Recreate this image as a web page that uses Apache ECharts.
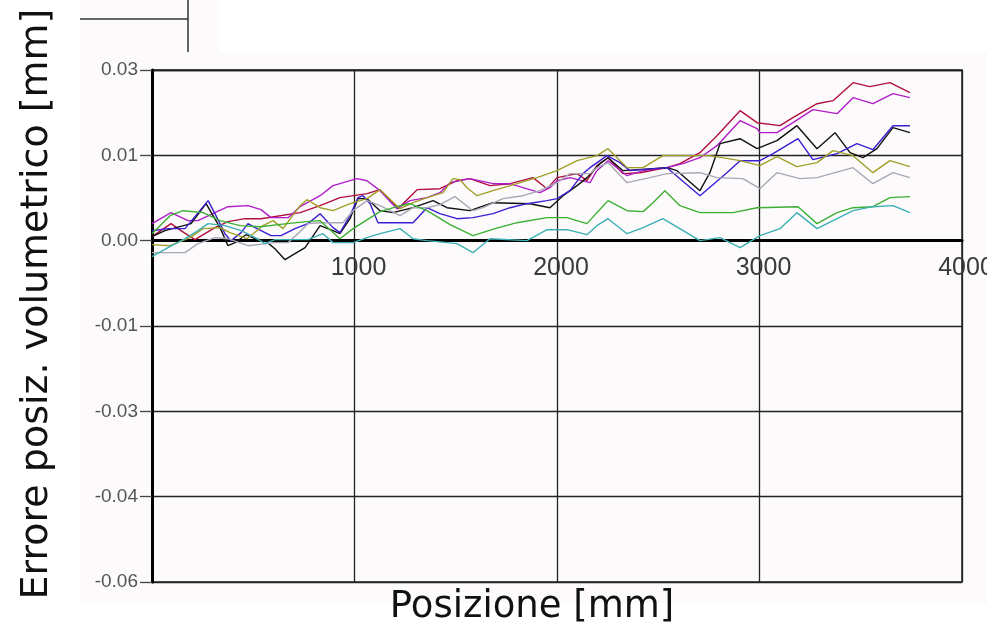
<!DOCTYPE html>
<html><head><meta charset="utf-8">
<script src="https://cdn.jsdelivr.net/npm/echarts@6/dist/echarts.min.js"></script>
<style>html,body{margin:0;padding:0;background:#fff}#c{width:987px;height:626px}</style>
</head><body><div id="c"></div>
<script>
const xTickLabels = ['', '1000', '2000', '3000', '4000'];
const yTickLabels = ['-0.06', '-0.04', '-0.03', '-0.01', '0.00', '0.01', '0.03'];
const seriesNames = ['Rosso', 'Magenta', 'Nero', 'Blu', 'Oliva', 'Grigio', 'Verde', 'Ciano'];

const redData = [[0,0.00067],[94,0.00285],[143,0.00167],[212,0.00017],[311,0.00218],[375,0.00318],[459,0.00368],[538,0.00368],[731,0.00469],[830,0.00586],[928,0.0072],[1062,0.00787],[1126,0.00854],[1215,0.00536],[1309,0.00854],[1422,0.0087],[1506,0.01004],[1570,0.01038],[1669,0.00921],[1768,0.00954],[1881,0.01055],[1951,0.0087],[2000,0.01055],[2099,0.01122],[2148,0.01004],[2197,0.01256],[2252,0.01389],[2326,0.01122],[2410,0.01138],[2543,0.01222],[2607,0.01289],[2706,0.01473],[2790,0.01758],[2904,0.02176],[2988,0.01975],[3101,0.01925],[3165,0.02059],[3284,0.02293],[3363,0.02344],[3462,0.02645],[3545,0.02578],[3644,0.02645],[3743,0.02478]];
const magentaData = [[0,0.00285],[94,0.00469],[178,0.00335],[227,0.00335],[311,0.00469],[375,0.00569],[474,0.00586],[538,0.00519],[588,0.00385],[672,0.00385],[731,0.00569],[830,0.00753],[894,0.00921],[1012,0.01038],[1062,0.01004],[1126,0.00837],[1210,0.00536],[1274,0.0067],[1358,0.0072],[1422,0.00804],[1472,0.00971],[1570,0.01038],[1684,0.00954],[1768,0.00954],[1832,0.00887],[1916,0.00804],[1965,0.00887],[2000,0.01004],[2064,0.01055],[2163,0.00971],[2197,0.01172],[2252,0.01339],[2346,0.01088],[2425,0.01172],[2543,0.01222],[2622,0.01289],[2706,0.01389],[2790,0.0159],[2904,0.02009],[2988,0.01875],[3002,0.01808],[3086,0.01808],[3165,0.01975],[3264,0.02193],[3383,0.02126],[3462,0.02394],[3560,0.02293],[3659,0.02461],[3743,0.02394]];
const blackData = [[0,0.00067],[64,0.00167],[193,0.00285],[267,0.00619],[336,0.00218],[375,-0.00084],[410,-0.00033],[464,0.001],[509,0.00033],[558,0],[607,-0.00134],[657,-0.00318],[706,-0.00218],[756,-0.00117],[830,0.00251],[894,0.00167],[928,0.00117],[978,0.00368],[1017,0.00703],[1062,0.00703],[1126,0.00502],[1190,0.00469],[1289,0.00552],[1388,0.0067],[1457,0.00552],[1570,0.00502],[1684,0.00636],[1867,0.00619],[1965,0.00552],[2030,0.00753],[2099,0.00921],[2148,0.01055],[2212,0.01289],[2252,0.01389],[2326,0.01172],[2543,0.01222],[2593,0.01172],[2706,0.00837],[2755,0.01138],[2805,0.01624],[2904,0.01707],[2988,0.0154],[3086,0.01674],[3185,0.01925],[3284,0.0154],[3373,0.01808],[3447,0.01473],[3511,0.01389],[3580,0.0154],[3659,0.01892],[3743,0.01808]];
const blueData = [[0,0.00167],[79,0.00201],[163,0.00201],[277,0.0067],[311,0.00452],[360,0.00117],[390,0],[440,0.00134],[474,0.00285],[509,0.00218],[588,0.00084],[637,0.00084],[706,0.00201],[770,0.00285],[830,0.00452],[894,0.00218],[928,0.00134],[978,0.00419],[1017,0.0072],[1042,0.00753],[1077,0.00619],[1116,0.00301],[1289,0.00301],[1358,0.00552],[1422,0.00452],[1506,0.00368],[1585,0.00385],[1684,0.00452],[1768,0.00552],[1852,0.00619],[1951,0.0067],[2000,0.00703],[2064,0.00837],[2128,0.01122],[2163,0.01222],[2247,0.01423],[2311,0.01306],[2360,0.01172],[2543,0.01222],[2706,0.00753],[2839,0.01138],[2904,0.01339],[3002,0.01339],[3067,0.01456],[3190,0.01707],[3264,0.01356],[3383,0.01456],[3481,0.01624],[3560,0.01523],[3659,0.01925],[3743,0.01925]];
const oliveData = [[0,-0.00067],[89,-0.00084],[188,0.0005],[252,0.00201],[336,0.00218],[385,0.00134],[469,0.00033],[548,0.00251],[598,0.00335],[647,0.00201],[731,0.00586],[765,0.00686],[830,0.00552],[894,0.00502],[978,0.00619],[1062,0.00703],[1126,0.00854],[1225,0.00536],[1289,0.00636],[1358,0.0072],[1437,0.00804],[1486,0.01038],[1521,0.01021],[1556,0.00887],[1605,0.00753],[1684,0.00837],[1802,0.00954],[1901,0.01055],[2000,0.01172],[2099,0.01339],[2197,0.01423],[2252,0.0154],[2346,0.01222],[2425,0.01222],[2523,0.01423],[2755,0.01423],[2904,0.01339],[3002,0.01256],[3086,0.01406],[3185,0.01239],[3284,0.01306],[3363,0.01507],[3462,0.01423],[3560,0.01138],[3644,0.01339],[3743,0.01239]];
const grayData = [[0,-0.00201],[163,-0.00201],[227,-0.0005],[311,0.0005],[375,0.00033],[474,-0.00084],[607,-0.00033],[672,-0.00033],[736,0.00167],[770,0.00285],[830,0.00301],[943,0.00301],[993,0.00502],[1062,0.0067],[1126,0.00586],[1225,0.00419],[1289,0.00552],[1358,0.00552],[1422,0.00603],[1496,0.00737],[1585,0.00502],[1634,0.00552],[1733,0.00703],[1832,0.00753],[1916,0.00837],[2000,0.00971],[2064,0.01122],[2163,0.01122],[2197,0.01222],[2252,0.01306],[2346,0.00971],[2459,0.01055],[2543,0.01122],[2706,0.01138],[2790,0.01055],[2918,0.01038],[3002,0.0087],[3086,0.01138],[3200,0.01038],[3284,0.01055],[3462,0.01222],[3560,0.00954],[3659,0.01138],[3743,0.01055]];
const greenData = [[0,0.00117],[89,0.00419],[153,0.00502],[252,0.00469],[336,0.00335],[435,0.00251],[533,0.00234],[667,0.00285],[765,0.00318],[830,0.00335],[928,0.00033],[993,0.00201],[1126,0.00486],[1225,0.00586],[1274,0.00619],[1358,0.00502],[1472,0.00268],[1585,0.00084],[1694,0.00201],[1802,0.00301],[1951,0.00385],[2049,0.00385],[2148,0.00285],[2197,0.00469],[2252,0.0067],[2346,0.00502],[2425,0.00486],[2474,0.00636],[2533,0.00837],[2607,0.00586],[2706,0.00469],[2869,0.00469],[2988,0.00552],[3190,0.00569],[3284,0.00285],[3383,0.00469],[3462,0.00552],[3560,0.00569],[3644,0.0072],[3743,0.00737]];
const tealData = [[0,-0.00268],[79,-0.00117],[163,0.00033],[227,0.00167],[277,0.00285],[360,0.00251],[440,0.00167],[509,0.0005],[558,-0.0005],[607,0.00017],[770,0.00017],[844,0.00117],[894,-0.00033],[993,-0.00033],[1062,0.0005],[1126,0.00117],[1225,0.00201],[1289,0.00033],[1358,0],[1506,-0.0005],[1585,-0.00201],[1669,0.00033],[1852,0],[1951,0.00184],[2049,0.00184],[2148,0.001],[2197,0.00251],[2252,0.00368],[2346,0.00117],[2425,0.00218],[2523,0.00368],[2706,0],[2805,0.0005],[2904,-0.00117],[3002,0.00084],[3101,0.00201],[3185,0.00469],[3284,0.00201],[3383,0.00368],[3462,0.00502],[3560,0.00569],[3659,0.00586],[3743,0.00469]];

const allData = [redData, magentaData, blackData, blueData, oliveData, grayData, greenData, tealData];
const colors = ['#b0103c', '#b01ec8', '#111111', '#3c1ed2', '#a0a028', '#a8a8b4', '#3cb032', '#3cb0b4'];

const YI = 1 / 70;
const chart = echarts.init(document.getElementById('c'), null, {renderer: 'canvas'});
chart.setOption({
  backgroundColor: '#ffffff',
  animation: false,
  grid: {left: 152, right: 25, top: 70, bottom: 44, show: true, borderColor: '#222', borderWidth: 1.5,
    backgroundColor: 'transparent', containLabel: false, outerBoundsMode: 'none'},
  graphic: [
    {type: 'rect', z: -10, shape: {x: 80, y: 0, width: 140, height: 52}, style: {fill: '#fdfafc'}},
    {type: 'rect', z: -10, shape: {x: 80, y: 52, width: 907, height: 551}, style: {fill: '#fdfafc'}},
    {type: 'line', shape: {x1: 80, y1: 19, x2: 188, y2: 19}, style: {stroke: '#333', lineWidth: 1.5}},
    {type: 'line', shape: {x1: 188, y1: 0, x2: 188, y2: 52}, style: {stroke: '#333', lineWidth: 1.5}},
    {type: 'text', x: 37, y: 304, rotation: Math.PI / 2, style: {text: 'Errore posiz. volumetrico [mm]', font: '38px "DejaVu Sans"', fill: '#111', align: 'center', verticalAlign: 'middle'}},
    {type: 'text', x: 532, y: 607, style: {text: 'Posizione [mm]', font: '37px "DejaVu Sans"', fill: '#111', align: 'center', verticalAlign: 'middle'}}
  ],
  xAxis: {
    type: 'value', min: 0, max: 4000, interval: 1000, position: 'bottom', offset: -342,
    axisLine: {show: true, onZero: false, lineStyle: {color: '#000', width: 3}},
    axisTick: {show: false},
    axisLabel: {show: true, fontSize: 25, fontFamily: 'Liberation Sans', color: '#3a3a3a', margin: 16, padding: [0, 0, 0, 8],
      formatter: function (v) { return xTickLabels[Math.round(v / 1000)]; }},
    splitLine: {show: true, lineStyle: {color: '#222', width: 1.3}}
  },
  yAxis: {
    type: 'value', min: -4 * YI, max: 2 * YI, interval: YI,
    axisLine: {show: true, onZero: false, lineStyle: {color: '#000', width: 3}},
    axisTick: {show: true, length: 12, lineStyle: {color: '#444', width: 1.3}},
    axisLabel: {fontSize: 19, fontFamily: 'Liberation Sans', color: '#555', margin: 14,
      formatter: function (v) { return yTickLabels[Math.round(v / YI) + 4]; }},
    splitLine: {show: true, lineStyle: {color: '#222', width: 1.3}}
  },
  series: allData.map(function (d, i) {
    return {name: seriesNames[i], type: 'line', data: d, showSymbol: false, symbol: 'none',
      lineStyle: {color: colors[i], width: 1.4}, itemStyle: {color: colors[i]}, z: 3};
  })
});
</script></body></html>
